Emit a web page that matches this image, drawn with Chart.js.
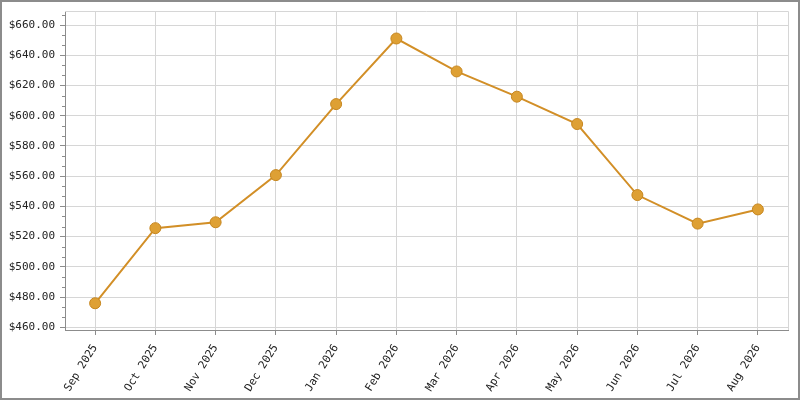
<!DOCTYPE html>
<html>
<head>
<meta charset="utf-8">
<script src="https://cdn.jsdelivr.net/npm/chart.js@4.4.1/dist/chart.umd.min.js"></script>
<style>
  html, body { margin: 0; padding: 0; background: #fff; }
  #wrap {
    width: 800px; height: 400px; box-sizing: border-box;
    border: 2px solid #8c8c8c; background: #fff;
  }
  #priceChart { display: block; }
</style>
</head>
<body>
<div id="wrap"><canvas id="priceChart" width="796" height="396"></canvas></div>
<script>
const months = ["Sep 2025", "Oct 2025", "Nov 2025", "Dec 2025", "Jan 2026", "Feb 2026",
  "Mar 2026", "Apr 2026", "May 2026", "Jun 2026", "Jul 2026", "Aug 2026"];
const prices = [475.9, 525.6, 529.5, 560.7, 607.7, 651.1, 629.3, 612.6, 594.5, 547.5, 528.6, 538.0];
const yMajorTicks = [460, 480, 500, 520, 540, 560, 580, 600, 620, 640, 660];
const yMin = 458.2;
const yMax = 669.3;

document.addEventListener("DOMContentLoaded", function () {
  const ctx = document.getElementById("priceChart").getContext("2d");
  const monoFont = { family: "'DejaVu Sans Mono', monospace", size: 11 };
  const step = 20 / 3;

  // frame round the plot area plus the short minor ticks on the y axis
  const framePlugin = {
    id: "frame",
    beforeDatasetsDraw(chart) {
      const a = chart.chartArea;
      const c = chart.ctx;
      c.save();
      c.strokeStyle = "#d6d6d6";
      c.lineWidth = 1;
      c.beginPath();
      c.moveTo(a.left, a.top + 0.5);
      c.lineTo(a.right + 0.5, a.top + 0.5);
      c.lineTo(a.right + 0.5, a.bottom);
      c.stroke();

      const y = chart.scales.y;
      c.strokeStyle = "#8c8c8c";
      c.beginPath();
      for (let v = yMajorTicks[0] + step; v < yMax; v += step) {
        if (Math.abs(Math.round((v - 460) / 20) * 20 + 460 - v) < 0.01) continue;
        const py = Math.round(y.getPixelForValue(v)) + 0.5;
        c.moveTo(a.left - 3, py);
        c.lineTo(a.left, py);
      }
      c.stroke();
      c.restore();
    },
  };

  new Chart(ctx, {
    type: "line",
    data: {
      labels: months,
      datasets: [
        {
          data: prices,
          borderColor: "#d28f27",
          borderWidth: 2,
          tension: 0,
          fill: false,
          pointRadius: 5.5,
          pointHoverRadius: 5.5,
          pointBackgroundColor: "#dea034",
          pointBorderColor: "#c6861f",
          pointBorderWidth: 1,
        },
      ],
    },
    options: {
      animation: false,
      responsive: false,
      layout: { padding: { top: 9, right: 10, left: 0, bottom: 0 } },
      plugins: {
        legend: { display: false },
        tooltip: { enabled: false },
      },
      scales: {
        x: {
          offset: true,
          grid: {
            offset: false,
            color: "#d6d6d6",
            tickColor: "#8c8c8c",
            tickLength: 5,
          },
          border: { color: "#8c8c8c", width: 1 },
          ticks: {
            color: "#222",
            font: monoFont,
            minRotation: 58,
            maxRotation: 58,
            padding: 7,
            autoSkip: false,
          },
          afterFit(scale) {
            scale.height = 68;
            scale.paddingLeft = 0;
            scale.paddingRight = 0;
          },
        },
        y: {
          min: yMin,
          max: yMax,
          afterBuildTicks(scale) {
            scale.ticks = yMajorTicks.map((v) => ({ value: v }));
          },
          grid: {
            color: "#d6d6d6",
            tickColor: "#8c8c8c",
            tickLength: 5,
          },
          border: { color: "#8c8c8c", width: 1 },
          ticks: {
            color: "#222",
            font: monoFont,
            padding: 5,
            callback: (value) => "$" + Number(value).toFixed(2),
          },
          afterFit(scale) {
            scale.width = 63;
            scale.paddingTop = 0;
            scale.paddingBottom = 0;
          },
        },
      },
    },
    plugins: [framePlugin],
  });
});
</script>
</body>
</html>
